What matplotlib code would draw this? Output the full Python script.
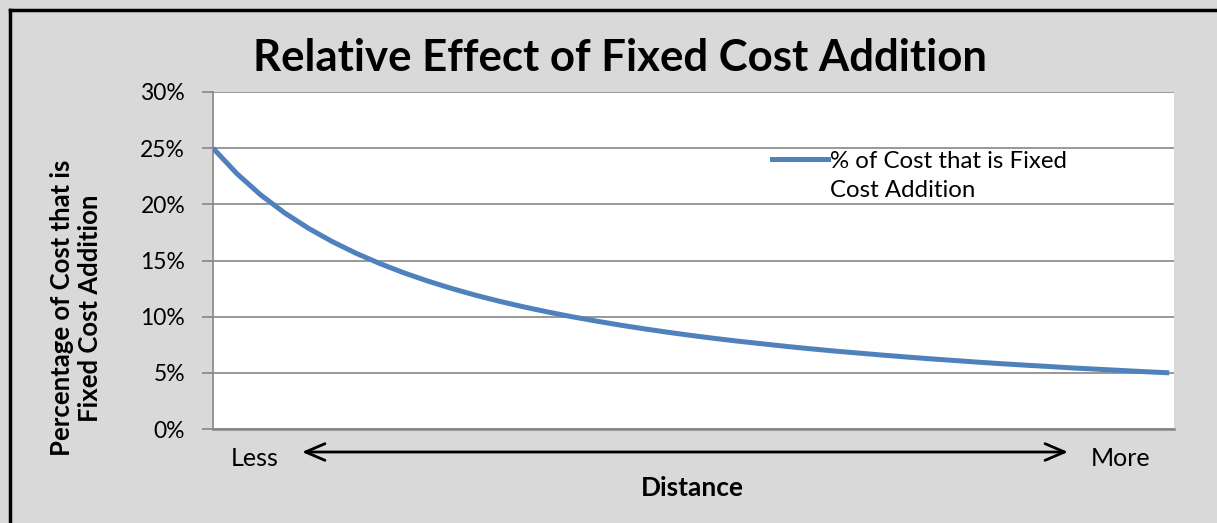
import matplotlib
matplotlib.use("Agg")
import matplotlib.pyplot as plt
from matplotlib.lines import Line2D

plt.rcParams['font.family'] = ['Lato', 'DejaVu Sans']

# 读图得到的数值（距离从少到多，41 个等距点）
distance_steps = list(range(41))
fixed_share = [25.0, 22.73, 20.83, 19.23, 17.86, 16.67, 15.63, 14.71, 13.89, 13.16,
               12.5, 11.9, 11.36, 10.87, 10.42, 10.0, 9.62, 9.26, 8.93, 8.62,
               8.33, 8.06, 7.81, 7.58, 7.35, 7.14, 6.94, 6.76, 6.58, 6.41,
               6.25, 6.1, 5.95, 5.81, 5.68, 5.56, 5.43, 5.32, 5.21, 5.1, 5.0]
y_ticks = [0, 5, 10, 15, 20, 25, 30]
y_tick_labels = ["0%", "5%", "10%", "15%", "20%", "25%", "30%"]
series_label = "% of Cost that is Fixed\nCost Addition"

BG = "#d9d9d9"
GRID = "#868686"
BLUE = "#4f81bd"

fig = plt.figure(figsize=(12.17, 5.23), dpi=100, facecolor=BG)
ax = fig.add_axes([213 / 1217, 1 - 429 / 523, (1174 - 213) / 1217, (429 - 92) / 523])
ax.set_facecolor("white")

ax.plot(distance_steps, fixed_share, color=BLUE, lw=3.6, solid_capstyle="butt",
        solid_joinstyle="round", label=series_label, zorder=3)

ax.set_xlim(0, 40.2)
ax.set_ylim(0, 30)
ax.set_yticks(y_ticks)
ax.set_yticklabels(y_tick_labels)
ax.set_xticks([])
ax.yaxis.grid(True, color=GRID, lw=1.2)
ax.tick_params(axis="y", length=8, width=1.2, color=GRID, labelsize=16.5, pad=12)

for side in ["top", "right"]:
    ax.spines[side].set_visible(False)
ax.spines["left"].set_color(GRID)
ax.spines["left"].set_linewidth(1.2)
ax.spines["bottom"].set_color(GRID)
ax.spines["bottom"].set_linewidth(1.8)

handle = Line2D([], [], color=BLUE, lw=3.6)
leg = ax.legend([handle], [series_label], loc="upper left", bbox_to_anchor=(0.582, 0.825),
                frameon=False, fontsize=17.3, handlelength=2.3, handletextpad=0.1,
                borderaxespad=0, borderpad=0)
for t in leg.get_texts():
    t.set_linespacing(1.45)
# 图例线条对齐第一行文字
for col in leg._legend_handle_box.get_children():
    for row in col.get_children():
        row.align = "top"

fig.text(620 / 1217, 1 - 58 / 523, "Relative Effect of Fixed Cost Addition",
         ha="center", va="center", fontsize=31.5, fontweight="bold")

fig.text(62 / 1217, 1 - 308 / 523, "Percentage of Cost that is", rotation=90,
         ha="center", va="center", fontsize=18.5, fontweight="bold")
fig.text(90 / 1217, 1 - 308 / 523, "Fixed Cost Addition", rotation=90,
         ha="center", va="center", fontsize=18.5, fontweight="bold")

fig.text(255 / 1217, 1 - 459 / 523, "Less", ha="center", va="center", fontsize=18)
fig.text(1121 / 1217, 1 - 458 / 523, "More", ha="center", va="center", fontsize=18)
fig.text(692 / 1217, 1 - 488 / 523, "Distance", ha="center", va="center",
         fontsize=19, fontweight="bold")

# 双向箭头
ax.annotate("", xy=(1068 / 1217, 1 - 452 / 523), xytext=(302 / 1217, 1 - 452 / 523),
            xycoords="figure fraction", textcoords="figure fraction",
            arrowprops=dict(arrowstyle="<->,head_length=1.4,head_width=0.6",
                            color="black", lw=2, shrinkA=0, shrinkB=0),
            annotation_clip=False)

# 左侧和上侧的黑色边框
fig.add_artist(Line2D([10 / 1217, 10 / 1217], [0, 1 - 10 / 523], color="black",
                      lw=2.5, transform=fig.transFigure))
fig.add_artist(Line2D([10 / 1217, 1], [1 - 10 / 523, 1 - 10 / 523], color="black",
                      lw=2.5, transform=fig.transFigure))

fig.savefig("out.png", dpi=100, facecolor=BG)
